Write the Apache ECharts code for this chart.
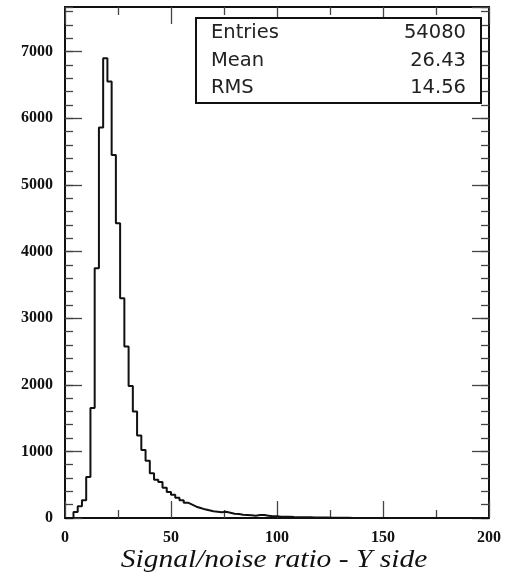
<!DOCTYPE html>
<html><head><meta charset="utf-8">
<script src="https://cdn.jsdelivr.net/npm/echarts@6/dist/echarts.min.js"></script>
<style>html,body{margin:0;padding:0;background:#fff}#c{width:508px;height:577px}</style>
</head><body><div id="c"></div>
<script>
// Histogram: 100 bins of width 2 over [0, 200]
const binWidth = 2;
const xMin = 0;
const xMax = 200;
const yMax = 7670;
const counts = [
  0, 0, 90, 175, 265, 615, 1650, 3750, 5860, 6900,
  6550, 5450, 4425, 3300, 2575, 1980, 1600, 1240, 1020, 860,
  670, 575, 540, 455, 390, 350, 305, 265, 230, 200,
  170, 150, 130, 115, 100, 95, 85, 95, 80, 65,
  60, 50, 45, 40, 35, 45, 45, 35, 25, 25,
  20, 18, 20, 15, 12, 12, 10, 10, 8, 8,
  6, 6, 5, 4, 3, 3, 2, 0, 0, 0,
  0, 0, 0, 0, 0, 0, 0, 0, 0, 0,
  0, 0, 0, 0, 0, 0, 0, 0, 0, 0,
  0, 0, 0, 0, 0, 0, 0, 0, 0, 0
];
const xTickStep = 50;
const yTickStep = 1000;
const yMinorStep = 200;
const statNames = ['Entries', 'Mean', 'RMS'];
const statValues = ['54080', '26.43', '14.56'];
const xTitle = 'Signal/noise ratio - Y side';

const points = counts.map((c, i) => [xMin + i * binWidth, c]);
points.push([xMax, 0]);

const frameLine = { show: true, onZero: false, lineStyle: { color: '#111', width: 2 } };
const tickStyle = { color: '#444', width: 1.3 };
const labelFont = { fontFamily: 'Liberation Serif', fontWeight: 'bold', fontSize: 16, color: '#111' };

function xAx(pos, withLabel) {
  return {
    type: 'value', position: pos, offset: 0, min: xMin, max: xMax, interval: xTickStep,
    axisLine: frameLine,
    axisTick: { show: true, inside: true, length: 17, lineStyle: tickStyle },
    minorTick: { show: true, splitNumber: 2, length: 8, lineStyle: tickStyle },
    splitLine: { show: false },
    axisLabel: withLabel ? Object.assign({ show: true, margin: 12, formatter: v => String(v) }, labelFont) : { show: false }
  };
}
function yAx(pos, major, withLabel) {
  return {
    type: 'value', position: pos, offset: 0, min: 0, max: yMax,
    interval: major ? yTickStep : yMinorStep,
    axisLine: frameLine,
    axisTick: { show: true, inside: true, length: major ? 17 : 8, lineStyle: tickStyle },
    splitLine: { show: false },
    axisLabel: withLabel ? Object.assign({ show: true, margin: 12, showMaxLabel: false, formatter: v => String(v) }, labelFont) : { show: false }
  };
}

const chart = echarts.init(document.getElementById('c'), null, { renderer: 'canvas' });
const graphics = [{
  type: 'rect', z: 5,
  shape: { x: 196, y: 18, width: 285, height: 85 },
  style: { fill: '#fff', stroke: '#111', lineWidth: 2 }
}];
const rowY = [33, 61, 88];
statNames.forEach((n, i) => {
  graphics.push({ type: 'text', z: 6, x: 211, y: rowY[i],
    style: { text: n, font: '19.5px "DejaVu Sans"', fill: '#222', textVerticalAlign: 'middle', textAlign: 'left' } });
  graphics.push({ type: 'text', z: 6, x: 466, y: rowY[i],
    style: { text: statValues[i], font: '19.5px "DejaVu Sans"', fill: '#222', textVerticalAlign: 'middle', textAlign: 'right' } });
});
graphics.push({ type: 'text', z: 6, x: 274, y: 560, scaleX: 1.18, originX: 0,
  style: { text: xTitle, font: 'italic 25px "Liberation Serif"', fill: '#111', textVerticalAlign: 'middle', textAlign: 'center' } });

chart.setOption({
  animation: false,
  backgroundColor: '#fff',
  grid: { left: 65, right: 19, top: 7, bottom: 59, containLabel: false, outerBoundsMode: 'none' },
  xAxis: [xAx('bottom', true), xAx('top', false)],
  yAxis: [yAx('left', false, false), yAx('left', true, true), yAx('right', true, false), yAx('right', false, false)],
  series: [{
    type: 'line', xAxisIndex: 0, yAxisIndex: 1,
    step: 'end', symbol: 'none',
    lineStyle: { color: '#111', width: 2 },
    data: points
  }],
  graphic: graphics
});
</script></body></html>
